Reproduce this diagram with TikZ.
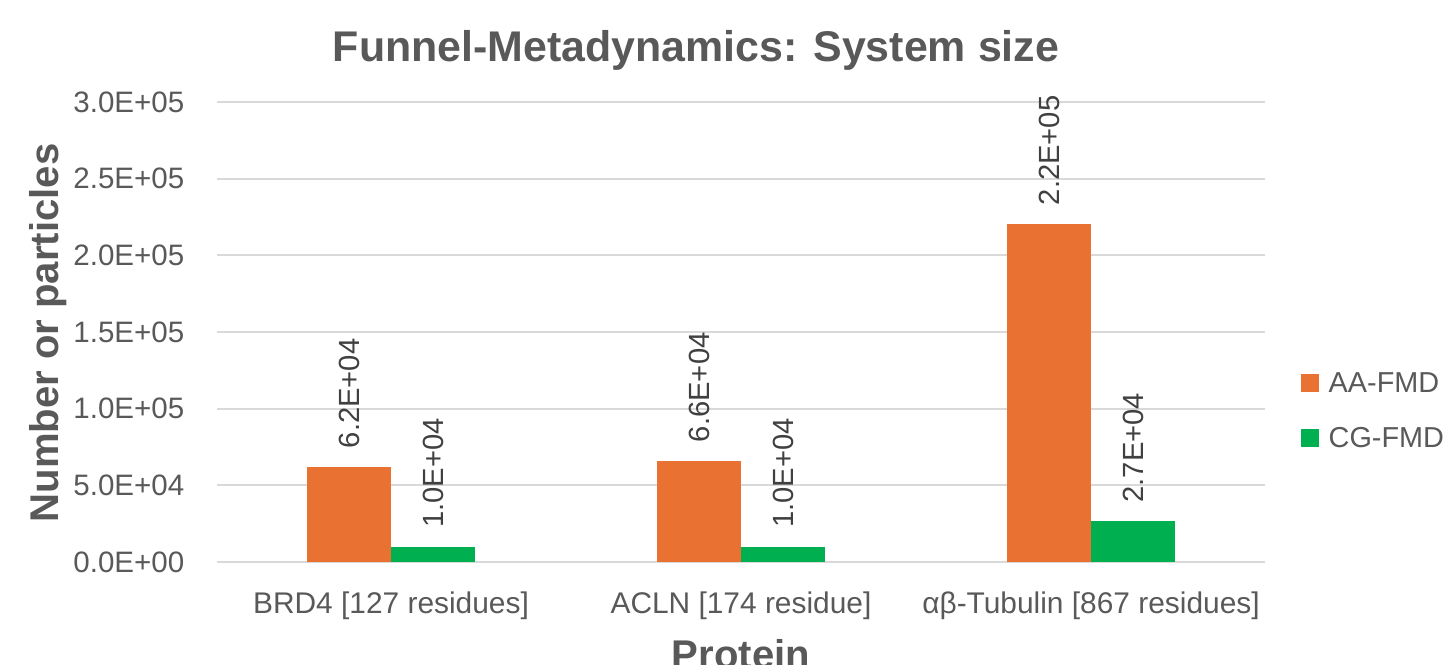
\documentclass[tikz,border=0pt]{standalone}
\usepackage{fontspec}
\setmainfont{Liberation Sans}
\usepackage{tikz}

\definecolor{aafmd}{HTML}{E97132}
\definecolor{cgfmd}{HTML}{00B050}
\definecolor{axisgray}{HTML}{595959}
\definecolor{valuegray}{HTML}{404040}
\definecolor{gridgray}{HTML}{D9D9D9}

\tikzset{
  gridline/.style={draw=gridgray, line width=0.55pt},
  ticklabel/.style={anchor=east, inner sep=0pt, text=axisgray, font=\fontsize{8.4}{10}\selectfont},
  catlabel/.style={anchor=base, inner sep=0pt, text=axisgray, font=\fontsize{8.5}{10}\selectfont},
  barlabel/.style={rotate=90, anchor=west, inner sep=0pt, text=valuegray, font=\fontsize{8.3}{10}\selectfont},
  legendlabel/.style={anchor=base west, inner sep=0pt, text=axisgray, font=\fontsize{8.2}{10}\selectfont},
  axistitle/.style={anchor=base, inner sep=0pt, text=axisgray, font=\bfseries\fontsize{11.4}{13}\selectfont},
  charttitle/.style={anchor=base, inner sep=0pt, text=axisgray, font=\bfseries\fontsize{12.2}{14}\selectfont}
}

\begin{document}
\begin{tikzpicture}[x=0.01cm, y=0.01cm]
  \useasboundingbox (0,0) rectangle (1450,665);

  % value axis: grid lines and tick labels
  \foreach \i/\lab in {0/0.0E+00, 1/5.0E+04, 2/1.0E+05, 3/1.5E+05, 4/2.0E+05, 5/2.5E+05, 6/3.0E+05}
  {
    \draw[gridline] (217,{103+\i*76.667}) -- (1265,{103+\i*76.667});
    \node[ticklabel] (tick-\i) at (185,{103+\i*76.667}) {\lab};
  }

  % bars, values and categories
  \foreach \cx/\aa/\cg/\aalab/\cglab/\name [count=\k] in
    {391/6.2/1.0/6.2E+04/1.0E+04/{BRD4 [127 residues]},
     741/6.6/1.0/6.6E+04/1.0E+04/{ACLN [174 residue]},
     1091/22.05/2.66/2.2E+05/2.7E+04/{αβ-Tubulin [867 residues]}}
  {
    \fill[aafmd] ({\cx-84},103) rectangle (\cx,{103+\aa*15.333});
    \fill[cgfmd] (\cx,103) rectangle ({\cx+84},{103+\cg*15.333});
    \node[barlabel] (aa-\k) at ({\cx-42},{103+\aa*15.333+18}) {\aalab};
    \node[barlabel] (cg-\k) at ({\cx+42},{103+\cg*15.333+18}) {\cglab};
    \node[catlabel] (cat-\k) at (\cx,51) {\name};
  }

  % titles
  \node[charttitle] (title) at (696,603) {Funnel-Metadynamics: System size};
  \node[axistitle, rotate=90] (ylab) at (58,332) {Number or particles};
  \node[axistitle] (xlab) at (741,-4) {Protein};

  % legend
  \fill[aafmd] (1301,273) rectangle (1319,291);
  \node[legendlabel] (leg-aa) at (1328,272) {AA-FMD};
  \fill[cgfmd] (1301,218) rectangle (1319,236);
  \node[legendlabel] (leg-cg) at (1328,217) {CG-FMD};
\end{tikzpicture}
\end{document}
